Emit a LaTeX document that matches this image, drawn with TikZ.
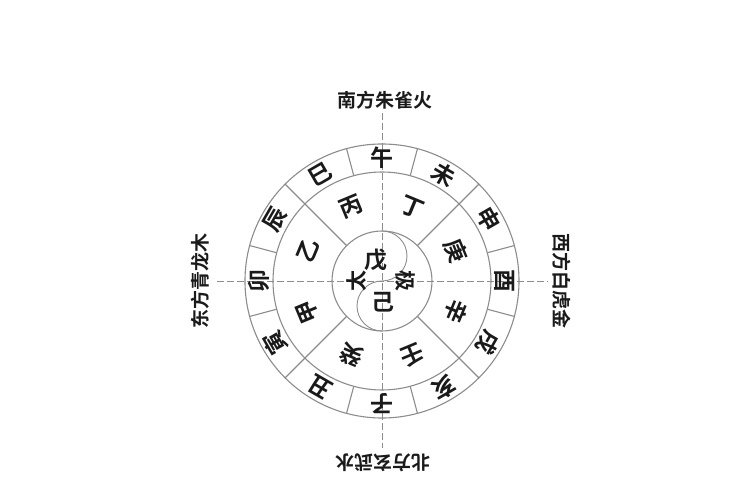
\documentclass[tikz,border=0pt]{standalone}
\usepackage{fontspec}
\newfontfamily\cjk{Noto Sans CJK SC}[BoldFont={Noto Sans CJK SC Bold}]
\usepackage{xcolor}
\usepackage{tikz}

\definecolor{ringgray}{HTML}{8C8C8C}
\definecolor{inkblack}{HTML}{1A1A1A}

\begin{document}
\begin{tikzpicture}[x=1pt, y=1pt,
    every node/.style={inner sep=0pt, text=inkblack, font=\cjk\bfseries\fontsize{23}{23}\selectfont},
    label/.style={font=\cjk\bfseries\fontsize{19}{19}\selectfont},
    ring/.style={draw=ringgray, line width=1.1pt},
    axis/.style={draw=ringgray, line width=0.9pt, dash pattern=on 7pt off 3pt}]
    \useasboundingbox (-382,-219) rectangle (368,281);

    % axes
    \draw[axis] (-165,0) -- (166,0);
    \draw[axis] (0,168) -- (0,-167);

    % circles
    \draw[ring] (0,0) circle (137);
    \draw[ring] (0,0) circle (109);
    \draw[ring] (0,0) circle (50);

    % outer ring dividers
    \draw[ring] (15:109) -- (15:137);
    \draw[ring] (45:109) -- (45:137);
    \draw[ring] (75:109) -- (75:137);
    \draw[ring] (105:109) -- (105:137);
    \draw[ring] (135:109) -- (135:137);
    \draw[ring] (165:109) -- (165:137);
    \draw[ring] (195:109) -- (195:137);
    \draw[ring] (225:109) -- (225:137);
    \draw[ring] (255:109) -- (255:137);
    \draw[ring] (285:109) -- (285:137);
    \draw[ring] (315:109) -- (315:137);
    \draw[ring] (345:109) -- (345:137);

    % middle ring dividers
    \draw[ring] (45:50) -- (45:109);
    \draw[ring] (135:50) -- (135:109);
    \draw[ring] (225:50) -- (225:109);
    \draw[ring] (315:50) -- (315:109);

    % taiji curve
    \draw[ring, line width=0.9pt] (0,50) arc (90:-90:25) arc (90:270:25);

    % earthly branches
    \node[rotate=0] (wu) at (90:123) {午};
    \node[rotate=-30] (wei) at (60:123) {未};
    \node[rotate=-60] (shen) at (30:123) {申};
    \node[rotate=-90] (you) at (0:123) {酉};
    \node[rotate=-120] (xu) at (-30:123) {戌};
    \node[rotate=-150] (hai) at (-60:123) {亥};
    \node[rotate=180] (zi) at (-90:123) {子};
    \node[rotate=150] (chou) at (-120:123) {丑};
    \node[rotate=120] (yin) at (-150:123) {寅};
    \node[rotate=90] (mao) at (180:123) {卯};
    \node[rotate=60] (chen) at (150:123) {辰};
    \node[rotate=30] (si) at (120:123) {巳};

    % heavenly stems
    \node[rotate=22.5] (bing) at (112.5:80) {丙};
    \node[rotate=-22.5] (ding) at (67.5:80) {丁};
    \node[rotate=-67.5] (geng) at (22.5:80) {庚};
    \node[rotate=-112.5] (xin) at (-22.5:80) {辛};
    \node[rotate=-157.5] (ren) at (-67.5:80) {壬};
    \node[rotate=157.5] (gui) at (-112.5:80) {癸};
    \node[rotate=112.5] (jia) at (-157.5:80) {甲};
    \node[rotate=67.5] (yi) at (157.5:80) {乙};

    % centre
    \node (wuC) at (-6,21) {戊};
    \node (ji) at (1,-21) {己};
    \node[rotate=90, font=\cjk\bfseries\fontsize{21}{21}\selectfont] (tai) at (-25,0) {太};
    \node[rotate=-90, font=\cjk\bfseries\fontsize{21}{21}\selectfont] (jiC) at (23,0) {极};

    % directions
    \node[label] (south) at (3,181) {南方朱雀火};
    \node[label, rotate=90] (east) at (-182,0) {东方青龙木};
    \node[label, rotate=-90] (west) at (180,0) {西方白虎金};
    \node[label, rotate=180] (north) at (1,-182) {北方玄武水};
\end{tikzpicture}
\end{document}
